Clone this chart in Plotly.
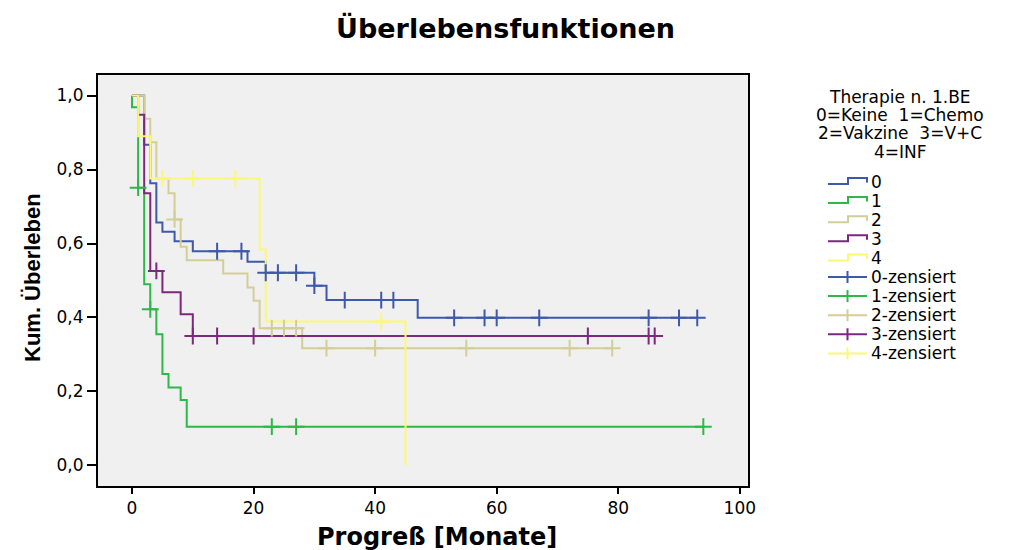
import plotly.graph_objects as go

# ---------------- data ----------------
groups = ["0", "1", "2", "3", "4"]
colors = ["#3E58AC", "#2EB848", "#D3CE97", "#7C287D", "#FBF873"]

# step times (months) and cumulative survival after each step
t0 = [0, 2, 3, 4, 5, 7, 10, 19, 22, 30, 32, 47, 93]
s0 = [1.0, 0.867, 0.763, 0.657, 0.632, 0.606, 0.579, 0.551, 0.521, 0.486, 0.447, 0.399, 0.399]
c0 = [14, 18, 22, 24, 27, 30, 35, 41, 43, 53, 58, 60, 67, 85, 90, 93]

t1 = [0, 0, 1, 2, 3, 4, 5, 6, 8, 9, 94]
s1 = [1.0, 0.968, 0.751, 0.490, 0.422, 0.355, 0.247, 0.211, 0.177, 0.105, 0.105]
c1 = [1, 3, 23, 27, 94]

t2 = [0, 2, 3, 4, 6, 7, 8, 9, 15, 19, 20, 21, 28, 79]
s2 = [1.0, 0.937, 0.874, 0.776, 0.736, 0.665, 0.591, 0.555, 0.519, 0.481, 0.445, 0.371, 0.317, 0.317]
c2 = [7, 23, 25, 27, 32, 40, 55, 72, 79]

t3 = [0, 1, 2, 3, 5, 8, 10, 86]
s3 = [1.0, 0.948, 0.736, 0.526, 0.468, 0.409, 0.350, 0.350]
c3 = [4, 10, 14, 20, 75, 85, 86]

t4 = [0, 1, 3, 21, 22, 45]
s4 = [1.0, 0.890, 0.776, 0.584, 0.389, 0.0]
c4 = [5, 10, 17, 41]

times = [t0, t1, t2, t3, t4]
survs = [s0, s1, s2, s3, s4]
cens = [c0, c1, c2, c3, c4]

x_ticks = [0, 20, 40, 60, 80, 100]
y_ticks = [0.0, 0.2, 0.4, 0.6, 0.8, 1.0]

title_text = "Überlebensfunktionen"
x_title = "Progreß [Monate]"
y_title = "Kum. Überleben"
legend_title_lines = ["Therapie n. 1.BE", "0=Keine&nbsp; 1=Chemo", "2=Vakzine&nbsp; 3=V+C", "4=INF"]
censor_suffix = "-zensiert"

# ---------------- layout geometry ----------------
W, H = 1016, 550
L, R, T, B = 98, 268, 75, 64
PW, PH = W - L - R, H - T - B


def px(x):
    return (x - L) / PW


def py(y):
    return (H - B - y) / PH


def level_at(ts, ss, c):
    val = ss[0]
    for t, s in zip(ts, ss):
        if t <= c:
            val = s
    return val


fig = go.Figure()

for g, col, ts, ss in zip(groups, colors, times, survs):
    fig.add_trace(go.Scatter(x=ts, y=ss, mode="lines", line=dict(color=col, width=2, shape="hv"),
                             name=g, showlegend=False, hoverinfo="skip"))

for g, col, ts, ss, cs in zip(groups, colors, times, survs, cens):
    fig.add_trace(go.Scatter(x=cs, y=[level_at(ts, ss, c) for c in cs], mode="markers",
                             marker=dict(symbol="cross-thin", size=12, line=dict(color=col, width=2)),
                             name=g + censor_suffix, showlegend=False, hoverinfo="skip"))

shapes = []
annotations = []

# title and axis titles
annotations.append(dict(text=title_text, x=px(505), y=py(28), xref="paper", yref="paper",
                        showarrow=False, xanchor="center", yanchor="middle",
                        font=dict(family="DejaVu Sans", size=27, color="black", weight="bold")))
annotations.append(dict(text=x_title, x=px(437), y=py(537), xref="paper", yref="paper",
                        showarrow=False, xanchor="center", yanchor="middle",
                        font=dict(family="DejaVu Sans", size=24, color="black", weight="bold")))
annotations.append(dict(text=y_title, x=px(32), y=py(278), xref="paper", yref="paper",
                        showarrow=False, xanchor="center", yanchor="middle", textangle=-90,
                        font=dict(family="Liberation Sans", size=22, color="black", weight="bold")))

# manual legend
leg_title_y = [96.7, 115, 133.3, 151.7]
for line, yy in zip(legend_title_lines, leg_title_y):
    annotations.append(dict(text=line, x=px(900), y=py(yy), xref="paper", yref="paper",
                            showarrow=False, xanchor="center", yanchor="middle",
                            font=dict(family="DejaVu Sans", size=17, color="black")))

item_y0, item_dy = 181.5, 19.1
labels = groups + [g + censor_suffix for g in groups]
for i, lab in enumerate(labels):
    yc = item_y0 + i * item_dy
    col = colors[i % 5]
    if i < 5:
        path = "M {:.5f},{:.5f} L {:.5f},{:.5f} L {:.5f},{:.5f} L {:.5f},{:.5f} L {:.5f},{:.5f}".format(
            px(828), py(yc + 2.5), px(848), py(yc + 2.5), px(848), py(yc - 3.5),
            px(867), py(yc - 3.5), px(867), py(yc + 1))
        shapes.append(dict(type="path", path=path, xref="paper", yref="paper",
                           line=dict(color=col, width=2)))
    else:
        shapes.append(dict(type="line", x0=px(828), x1=px(867), y0=py(yc), y1=py(yc),
                           xref="paper", yref="paper", line=dict(color=col, width=2)))
        shapes.append(dict(type="line", x0=px(847.5), x1=px(847.5), y0=py(yc - 6), y1=py(yc + 6),
                           xref="paper", yref="paper", line=dict(color=col, width=2)))
    annotations.append(dict(text=lab, x=px(869), y=py(yc), xref="paper", yref="paper",
                            showarrow=False, xanchor="left", yanchor="middle",
                            font=dict(family="DejaVu Sans", size=17, color="black")))

fig.update_layout(
    width=W, height=H,
    margin=dict(l=L, r=R, t=T, b=B, pad=0),
    paper_bgcolor="white", plot_bgcolor="#F0F0F0",
    separators=",.",
    showlegend=False,
    shapes=shapes, annotations=annotations,
    xaxis=dict(range=[-5.6, 101.35], tickvals=x_ticks, ticks="outside", ticklen=6, tickwidth=1.5,
               tickcolor="black", showline=True, linecolor="black", linewidth=2, mirror=True,
               showgrid=False, zeroline=False,
               tickfont=dict(family="DejaVu Sans", size=17, color="black")),
    yaxis=dict(range=[-0.0555, 1.0555], tickvals=y_ticks, tickformat=".1f", ticks="outside", ticklen=9,
               tickwidth=1.5, tickcolor="black", showline=True, linecolor="black", linewidth=2, mirror=True,
               showgrid=False, zeroline=False,
               tickfont=dict(family="DejaVu Sans", size=17, color="black")),
)

fig.write_html("out.html")
